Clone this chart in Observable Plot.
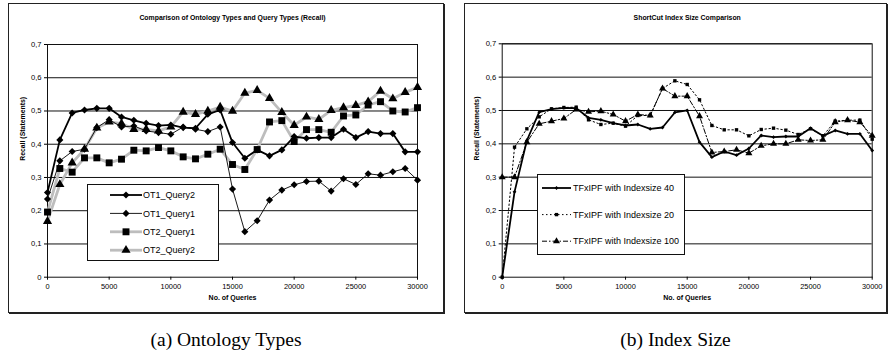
<!DOCTYPE html>
<html>
<head>
<meta charset="utf-8">
<script src="https://cdn.jsdelivr.net/npm/d3@7"></script>
<script src="https://cdn.jsdelivr.net/npm/@observablehq/plot@0.6"></script>
<style>
  html, body { margin: 0; padding: 0; background: #fff; }
  #wrap { position: relative; width: 890px; height: 356px; overflow: hidden; background: #fff; font-family: "Liberation Sans", Arial, sans-serif; }
  .box { position: absolute; border: 1.5px solid #222; box-shadow: 1px 1px 0 #222; box-sizing: border-box; }
  .chart { position: absolute; }
  .legend { position: absolute; border: 1px solid #111; background: #fff; box-sizing: border-box; }
  .caption { position: absolute; font-family: "Liberation Serif", "Times New Roman", serif; font-size: 19.5px; text-align: center; line-height: 22px; color: #000; }
</style>
</head>
<body>
<div id="wrap">
  <div class="box" style="left:8px;top:3px;width:436px;height:310px"></div>
  <div class="box" style="left:464px;top:3px;width:423px;height:310px"></div>
  <div class="chart" id="ca" style="left:8px;top:3px"></div>
  <div class="chart" id="cb" style="left:464px;top:3px"></div>
  <div class="caption" style="left:8px;width:436px;top:329px">(a) Ontology Types</div>
  <div class="caption" style="left:464px;width:423px;top:329px">(b) Index Size</div>
</div>
<script>
// ---------- data ----------
const queries = [0,1000,2000,3000,4000,5000,6000,7000,8000,9000,10000,11000,12000,13000,14000,15000,16000,17000,18000,19000,20000,21000,22000,23000,24000,25000,26000,27000,28000,29000,30000];
const xTicks = [0,5000,10000,15000,20000,25000,30000];
const yTicks = [0,0.1,0.2,0.3,0.4,0.5,0.6,0.7];

const ot1Query2 = [0.255,0.413,0.494,0.503,0.508,0.508,0.482,0.472,0.463,0.456,0.458,0.45,0.448,0.49,0.503,0.405,0.358,0.383,0.365,0.383,0.423,0.418,0.42,0.42,0.445,0.42,0.438,0.432,0.432,0.377,0.377];
const ot1Query1 = [0.235,0.35,0.378,0.385,0.45,0.474,0.452,0.455,0.44,0.435,0.43,0.452,0.445,0.438,0.452,0.265,0.137,0.17,0.232,0.262,0.278,0.288,0.289,0.259,0.296,0.279,0.311,0.307,0.317,0.327,0.292];
const ot2Query1 = [0.196,0.327,0.316,0.359,0.359,0.344,0.355,0.382,0.38,0.39,0.38,0.362,0.356,0.37,0.385,0.339,0.324,0.384,0.467,0.471,0.408,0.444,0.444,0.436,0.485,0.488,0.518,0.528,0.5,0.497,0.51];
const ot2Query2 = [0.168,0.279,0.344,0.385,0.449,0.467,0.462,0.445,0.445,0.44,0.452,0.497,0.49,0.5,0.512,0.5,0.554,0.562,0.538,0.496,0.457,0.482,0.475,0.502,0.51,0.517,0.528,0.56,0.537,0.556,0.571];

const index40 = [0,0.256,0.41,0.495,0.504,0.508,0.507,0.478,0.472,0.462,0.455,0.458,0.445,0.449,0.494,0.5,0.405,0.36,0.377,0.366,0.386,0.425,0.42,0.422,0.422,0.447,0.424,0.44,0.43,0.43,0.38];
const index20 = [0,0.39,0.445,0.481,0.505,0.509,0.51,0.472,0.458,0.462,0.453,0.485,0.485,0.566,0.589,0.578,0.532,0.455,0.442,0.442,0.424,0.443,0.447,0.441,0.428,0.445,0.424,0.468,0.471,0.471,0.414];
const index100 = [0.3,0.3,0.405,0.46,0.468,0.476,0.503,0.496,0.498,0.488,0.468,0.488,0.485,0.566,0.543,0.543,0.483,0.374,0.377,0.382,0.372,0.394,0.4,0.4,0.412,0.41,0.412,0.465,0.471,0.465,0.424];

// ---------- styles ----------
const seriesA = [
  {name: "OT1_Query2", values: ot1Query2, stroke: "#000", sw: 1.8, dash: null, symbol: "diamond2", r: 3.2, line: 1},
  {name: "OT1_Query1", values: ot1Query1, stroke: "#000", sw: 0.9, dash: null, symbol: "diamond2", r: 3.2, line: 1},
  {name: "OT2_Query1", values: ot2Query1, stroke: "#bdbdbd", sw: 2.8, dash: null, symbol: "square", r: 3.9, line: 0},
  {name: "OT2_Query2", values: ot2Query2, stroke: "#bdbdbd", sw: 2.8, dash: null, symbol: "triangle", r: 3.4, line: 0}
];
const seriesB = [
  {name: "TFxIPF with Indexsize 40", values: index40, stroke: "#000", sw: 1.8, dash: null, symbol: "diamond2", r: 1.7, line: 1},
  {name: "TFxIPF with Indexsize 20", values: index20, stroke: "#000", sw: 1.0, dash: "1.5,2.5", symbol: "square", r: 1.9, line: 0},
  {name: "TFxIPF with Indexsize 100", values: index100, stroke: "#000", sw: 1.0, dash: "5,2,1.5,2", symbol: "triangle", r: 2.6, line: 0}
];

const fmtY = d => d === 0 ? "0" : d.toFixed(1).replace(".", ",");

function rows(s) { return queries.map((q, i) => ({q, v: s.values[i]})); }

function makeChart(el, opts, series) {
  const lineOrder = [...series].sort((a, b) => a.line - b.line);
  const marks = [
    Plot.ruleY(yTicks.slice(1), {stroke: "#111", strokeWidth: 1}),
    Plot.frame({stroke: "#111", strokeWidth: 1}),
    Plot.axisY({ticks: yTicks, tickFormat: fmtY, tickSize: 3, tickPadding: 3, label: null, fontSize: 7.6}),
    Plot.axisX({ticks: xTicks, tickFormat: d => String(d), tickSize: 3, tickPadding: 4, label: null, fontSize: 7.4}),
    Plot.text([opts.title], {frameAnchor: "top", dy: -29, fontWeight: "bold", fontSize: 6.9}),
    Plot.text(["No. of Queries"], {frameAnchor: "bottom", dy: 23, fontWeight: "bold", fontSize: 7}),
    Plot.text(["Recall (Statements)"], {frameAnchor: "left", dx: opts.ylabDx, rotate: -90, fontWeight: "bold", fontSize: 6.9})
  ];
  for (const s of lineOrder) {
    marks.push(Plot.line(rows(s), {x: "q", y: "v", stroke: s.stroke, strokeWidth: s.sw, strokeDasharray: s.dash, strokeLinejoin: "round"}));
  }
  for (const s of lineOrder) {
    marks.push(Plot.dot(rows(s), {x: "q", y: "v", symbol: s.symbol, r: s.r, fill: "#000", stroke: "none"}));
  }
  const p = Plot.plot({
    width: opts.width, height: opts.height,
    marginLeft: opts.ml, marginRight: opts.mr, marginTop: opts.mt, marginBottom: opts.mb,
    x: {domain: [0, 30000]},
    y: {domain: [0, 0.7]},
    style: {fontFamily: "'Liberation Sans', Arial, sans-serif", color: "#000", background: "transparent", overflow: "visible"},
    marks
  });
  el.appendChild(p);
}

makeChart(document.getElementById("ca"), {width: 436, height: 310, ml: 39, mr: 27, mt: 41, mb: 36.3, title: "Comparison of Ontology Types and Query Types (Recall)", ylabDx: -25}, seriesA);
makeChart(document.getElementById("cb"), {width: 423, height: 310, ml: 37.7, mr: 15.3, mt: 40.3, mb: 36.3, title: "ShortCut Index Size Comparison", ylabDx: -25}, seriesB);

// ---------- legends ----------
function legend(parent, box, series, entry) {
  const div = document.createElement("div");
  div.className = "legend";
  Object.assign(div.style, {left: box.x + "px", top: box.y + "px", width: box.w + "px", height: box.h + "px"});
  parent.appendChild(div);
  const svg = d3.select(div).append("svg").attr("width", box.w).attr("height", box.h)
    .style("position", "absolute").style("left", "-1px").style("top", "-1px");
  series.forEach((s, i) => {
    const cy = entry.y0 + i * entry.dy;
    svg.append("line").attr("x1", entry.lx1).attr("x2", entry.lx2).attr("y1", cy).attr("y2", cy)
      .attr("stroke", s.stroke).attr("stroke-width", s.sw).attr("stroke-dasharray", s.dash);
    const sym = {diamond2: d3.symbolDiamond2, square: d3.symbolSquare, triangle: d3.symbolTriangle}[s.symbol];
    svg.append("path").attr("d", d3.symbol(sym, Math.PI * s.r * s.r)())
      .attr("transform", `translate(${(entry.lx1 + entry.lx2) / 2},${cy})`).attr("fill", "#000");
    svg.append("text").attr("x", entry.tx).attr("y", cy).attr("dy", "0.35em")
      .attr("font-size", entry.fs).attr("font-family", "'Liberation Sans', Arial, sans-serif").text(s.name);
  });
}
const wrap = document.getElementById("wrap");
legend(wrap, {x: 87, y: 184, w: 132, h: 77}, seriesA, {y0: 11, dy: 18.4, lx1: 23, lx2: 55, tx: 56, fs: 9});
legend(wrap, {x: 537, y: 174, w: 148, h: 81}, seriesB, {y0: 14, dy: 26.6, lx1: 5, lx2: 34, tx: 36, fs: 9});
</script>
</body>
</html>
